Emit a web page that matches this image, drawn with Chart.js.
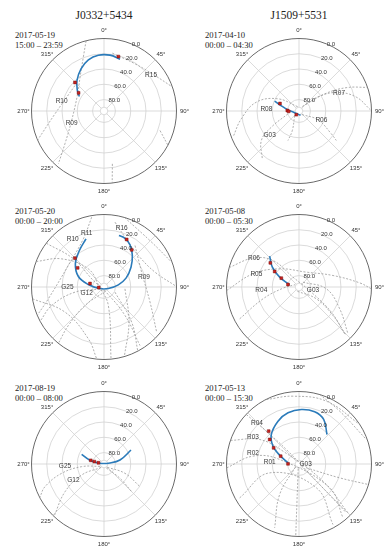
<!DOCTYPE html>
<html>
<head>
<meta charset="utf-8">
<script src="https://cdn.jsdelivr.net/npm/chart.js@4.4.1/dist/chart.umd.min.js"></script>
<style>
  body { margin: 0; width: 391px; height: 550px; overflow: hidden; background: #fff; position: relative; font-family: "Liberation Serif", "Times New Roman", serif; color: #222; }
  canvas { position: absolute; }
  .tit { position: absolute; width: 196px; text-align: center; font-size: 11.5px; line-height: 14px; }
  .dt { position: absolute; font-size: 8.6px; line-height: 10px; white-space: nowrap; }
</style>
</head>
<body>
<div class="tit" style="left:6px;top:8px">J0332+5434</div>
<div class="tit" style="left:201px;top:8px">J1509+5531</div>

<div class="dt" style="left:15px;top:30px">2017-05-19<br>15:00 – 23:59</div>
<div class="dt" style="left:205px;top:30px">2017-04-10<br>00:00 – 04:30</div>
<div class="dt" style="left:15px;top:206px">2017-05-20<br>00:00 – 20:00</div>
<div class="dt" style="left:205px;top:206px">2017-05-08<br>00:00 – 05:30</div>
<div class="dt" style="left:15px;top:383px">2017-08-19<br>00:00 – 08:00</div>
<div class="dt" style="left:205px;top:383px">2017-05-13<br>00:00 – 15:30</div>

<canvas id="c1" width="196" height="180" style="left:6px;top:20.5px"></canvas>
<canvas id="c2" width="196" height="180" style="left:201px;top:20.5px"></canvas>
<canvas id="c3" width="196" height="180" style="left:6px;top:196.5px"></canvas>
<canvas id="c4" width="196" height="180" style="left:201px;top:196.5px"></canvas>
<canvas id="c5" width="196" height="180" style="left:6px;top:374px"></canvas>
<canvas id="c6" width="196" height="180" style="left:201px;top:374px"></canvas>

<script>
// radial axis: elevation 0 at the rim, 90 on the small inner ring, value 95 at the centre
const rCentre = 95;
const ringEls = [0, 20, 40, 60, 80];
const azTicks = [0, 45, 90, 135, 180, 225, 270, 315];

// ---- J0332+5434, 2017-05-19  ([azimuth, elevation])
const p1Blue = [[17.2, 23.9], [6.1, 21.4], [354.2, 21.5], [343, 24.9], [331.4, 32.1], [318.5, 41.6], [307.6, 50.9], [300.5, 57.5]];
const p1Red = [[14.8, 21.2], [314.5, 41.7], [305.5, 54.1]];
const p1Tracks = [
  [[8.2, 18.4], [33.3, 21.0], [55.2, 13.6], [70.1, 0.7]],
  [[345.7, 0], [339, 19.4], [324.7, 40.7], [303.1, 53.8], [253.6, 50.8], [230, 28.2], [220.8, 3.5]],
  [[311.3, 44.4], [266.7, 30.7], [246.3, 0]],
  [[171, 24.9], [173.5, 0]],
  [[109.2, 17.3], [118.2, 0]]
];
const p1Labels = [["R15", 53, 17.8], ["R10", 282.6, 38.1], ["R09", 249.4, 49.7]];

// ---- J1509+5531, 2017-04-10
const p2Blue = [[292, 60.6], [286.3, 70.9], [276, 80.5], [258, 87.8], [160, 89]];
const p2Red = [[291.5, 68.2], [272.5, 79.7], [268, 81.5], [216, 89]];
const p2Tracks = [
  [[36.5, 87.7], [54.3, 61.7], [64.6, 38.4], [76.4, 17.7], [89, 1.5]],
  [[45.7, 82.8], [56.9, 52.2], [64, 25], [71, 0]],
  [[140.5, 89], [115, 67.5], [125.2, 43.1], [128.3, 32.7]],
  [[342.5, 89], [300.1, 63.2], [281.7, 37.9], [262.3, 18.7], [248.4, 2]],
  [[255.6, 80.1], [239.7, 53], [231.9, 32.3], [217.5, 16]],
  [[224, 86.8], [198.9, 68], [200.5, 53.7]]
];
const p2Labels = [["R07", 65.6, 37.4], ["R08", 272.6, 52.2], ["R06", 113, 63.2], ["G03", 230.1, 44.9]];

// ---- J0332+5434, 2017-05-20
const p3Blue = [[339.5, 27.6], [326, 37.3], [309, 46.7], [292.2, 58.7], [279, 74.2], [250, 89], [110, 89], [81.4, 76], [68.1, 63.9], [53.7, 51.1], [42, 39.5], [31.7, 30.1], [22.5, 25.3], [16.2, 24.7]];
const p3Red = [[314.8, 41.4], [306, 52.3], [284, 76.1], [265, 88], [25.5, 26], [36.7, 34.3]];
const p3Tracks = [
  [[307.2, 0], [312.6, 40.4], [301.4, 78.6], [155.4, 86.6], [143.6, 48.6], [148.4, 5]],
  [[350, 2.1], [336.8, 26.3], [301.1, 40.4], [258, 20.4], [247, 0]],
  [[290.6, 0], [303.6, 28.4], [319.2, 63.6], [270, 89], [166.8, 70.1], [174.4, 0.4]],
  [[9.6, 8.8], [22.8, 24.1], [47.5, 33.9], [73.8, 25.4], [88.8, 2]],
  [[36.8, 27.1], [68.5, 42], [108.2, 31.5], [130.6, 4.1]],
  [[16.4, 0], [46.8, 9.3], [69.8, 0.6]],
  [[243, 89], [259.9, 56.4], [250.5, 22.3], [241.8, 0]],
  [[164, 89], [225.8, 60.2], [222.8, 26.2], [219, 0]],
  [[115.2, 79.1], [141.8, 36.4], [152.2, 0]],
  [[260.7, 0], [237.2, 34.2], [196.8, 24.1], [185.8, 0.4]],
  [[95, 67.4], [144.6, 38.5], [163.7, 0]]
];
const p3Labels = [["R11", 342.3, 20.5], ["R10", 327, 19.7], ["R16", 16.7, 14.5], ["R09", 76.2, 41], ["G25", 269.7, 47], ["G12", 251.4, 71]];

// ---- J1509+5531, 2017-05-08
const p4Blue = [[316.4, 39.2], [306.6, 51.5], [297, 66.6], [283, 82.4]];
const p4Red = [[310.1, 45.9], [302.5, 57.2], [296.6, 69.1], [282.8, 80.2]];
const p4Tracks = [
  [[285.6, 0], [302.1, 23.8], [315.5, 46.3], [328.6, 79.9], [112.7, 77.5], [127.9, 41.3], [135.7, 9.3]],
  [[267.2, 0], [286, 32.3], [313.2, 60.2], [26.3, 73.3], [71.3, 48], [86.1, 15.3], [91.5, 0]],
  [[241.8, 6.8], [251.8, 45.3], [265.8, 74], [300, 89]],
  [[200, 89], [124.3, 67.5], [130, 36.9], [135.7, 6.2]],
  [[39.6, 86.8], [93.8, 59.1], [118.2, 34.5], [133.7, 6.2]]
];
const p4Labels = [["R06", 303, 24.7], ["R05", 287.2, 36.5], ["R04", 265.7, 45.5], ["G03", 101.4, 76.3]];

// ---- J0332+5434, 2017-08-19
const p5Blue = [[293.4, 63.1], [284.7, 76], [279.5, 89], [80.5, 87], [76, 73.4], [62.6, 55.2]];
const p5Red = [[285.5, 77], [284, 82], [283, 87.5]];
const p5Tracks = [
  [[240, 89], [263.2, 65.5], [257.6, 38.2], [249, 12.2], [242.4, 0]],
  [[220, 89], [243.8, 62.4], [234.6, 32.4], [223.9, 1.1]],
  [[135, 89], [114, 64.9], [122.2, 39.3]],
  [[150, 89], [131.9, 66.9], [135, 43.7]]
];
const p5Labels = [["G25", 267.1, 43.8], ["G12", 242.4, 49.7]];

// ---- J1509+5531, 2017-05-13
const p6Blue = [[43.5, 41.7], [29, 28.3], [16.7, 23.6], [2.5, 23.5], [347.9, 26.4], [333.9, 32.5], [316.8, 42], [304.4, 53.7], [294.6, 67.1], [276, 80.5]];
const p6Red = [[317.3, 36.4], [309.9, 44.9], [302.5, 55.6], [293.1, 68.9], [271, 80.6]];
const p6Tracks = [
  [[313.2, 0.3], [315.1, 34.3], [319.4, 72.9], [134.8, 56.9], [135.9, 5.9]],
  [[289, 0], [301.9, 34.3], [308.7, 68.1], [125.6, 56.3], [134.9, 4.4]],
  [[266.9, 0], [279.7, 33.8], [283.1, 69], [127.9, 44.1], [140.7, 3.9]],
  [[240.3, 5.5], [253.2, 54.9], [143.9, 56.4], [150.7, 4.1]],
  [[333.1, 0.3], [354.9, 5.8], [23.5, 5.2], [56.9, 0.1]],
  [[16.6, 0], [37.6, 7.6], [70, 1.1]],
  [[190, 89], [183.1, 46.2], [182.6, 0.3]],
  [[230, 89], [212.4, 47.7], [200.9, 5.5]],
  [[117.6, 84.2], [108.8, 38.7], [106.5, 0.6]]
];
const p6Labels = [["R04", 314.4, 17.9], ["R03", 300.3, 25.2], ["R02", 283.6, 33], ["R01", 273.6, 56.5], ["G03", 94.3, 86.2]];

function toXY(az, el) {
  const r = rCentre - el, a = az * Math.PI / 180;
  return { x: r * Math.sin(a), y: r * Math.cos(a) };
}
const conv = list => list.map(p => toXY(p[0], p[1]));

const skyGrid = {
  id: "skyGrid",
  beforeDatasetsDraw(chart) {
    const ctx = chart.ctx, sx = chart.scales.x, sy = chart.scales.y;
    const cx = sx.getPixelForValue(0), cy = sy.getPixelForValue(0);
    const pr = v => sx.getPixelForValue(v) - cx;
    ctx.save();
    ctx.strokeStyle = "#d2d2d2";
    ctx.lineWidth = 0.8;
    [20, 40, 60, 80, 90].forEach(el => {
      ctx.beginPath();
      ctx.arc(cx, cy, pr(rCentre - el), 0, Math.PI * 2);
      ctx.stroke();
    });
    azTicks.forEach(az => {
      const a = az * Math.PI / 180;
      ctx.beginPath();
      ctx.moveTo(cx + pr(5) * Math.sin(a), cy - pr(5) * Math.cos(a));
      ctx.lineTo(cx + pr(rCentre) * Math.sin(a), cy - pr(rCentre) * Math.cos(a));
      ctx.stroke();
    });
    ctx.strokeStyle = "#6a6a6a";
    ctx.lineWidth = 1;
    ctx.beginPath();
    ctx.arc(cx, cy, pr(rCentre), 0, Math.PI * 2);
    ctx.stroke();
    ctx.restore();
    // keep the tracks inside the rim
    ctx.save();
    ctx.beginPath();
    ctx.arc(cx, cy, pr(rCentre) + 0.5, 0, Math.PI * 2);
    ctx.clip();
  },
  afterDatasetsDraw(chart, args, opts) {
    const ctx = chart.ctx, sx = chart.scales.x, sy = chart.scales.y;
    ctx.restore();
    const cx = sx.getPixelForValue(0), cy = sy.getPixelForValue(0);
    const pr = v => sx.getPixelForValue(v) - cx;
    ctx.save();
    ctx.fillStyle = "#333";
    ctx.textBaseline = "middle";
    ctx.font = '6px "Liberation Sans", Arial, sans-serif';
    ctx.textAlign = "center";
    azTicks.forEach(az => {
      const a = az * Math.PI / 180, r = pr(rCentre) + 8;
      ctx.fillText(az + "°", cx + r * Math.sin(a), cy - r * Math.cos(a));
    });
    ctx.textAlign = "left";
    const la = 22.5 * Math.PI / 180;
    ringEls.forEach(el => {
      const r = pr(rCentre - el);
      ctx.fillText(el.toFixed(1), cx + r * Math.sin(la), cy - r * Math.cos(la));
    });
    ctx.font = '6.5px "Liberation Sans", Arial, sans-serif';
    ctx.textAlign = "center";
    ctx.fillStyle = "#3a3a3a";
    opts.labels.forEach(([name, az, el]) => {
      const p = toXY(az, el);
      ctx.fillText(name, sx.getPixelForValue(p.x), sy.getPixelForValue(p.y));
    });
    ctx.restore();
  }
};

function skyPlot(id, blue, red, tracks, labels) {
  const sets = [
    { data: conv(red), showLine: false, pointRadius: 2, pointStyle: "rect",
      backgroundColor: "#c8231f", borderColor: "#7d1010", borderWidth: 0.5, order: 0 },
    { data: conv(blue), showLine: true, pointRadius: 0, borderColor: "#2b7bba", borderWidth: 1.6,
      tension: 0.4, order: 1 }
  ];
  tracks.forEach(t => sets.push({
    data: conv(t), showLine: true, pointRadius: 0, borderColor: "#9a9a9a", borderWidth: 0.8,
    borderDash: [2, 1.6], tension: 0.4, order: 2
  }));
  return new Chart(document.getElementById(id), {
    type: "scatter",
    data: { datasets: sets },
    options: {
      responsive: false,
      animation: false,
      layout: { padding: { left: 25.5, right: 25.5, top: 17.5, bottom: 17.5 } },
      plugins: { legend: { display: false }, tooltip: { enabled: false }, skyGrid: { labels: labels } },
      scales: {
        x: { type: "linear", min: -rCentre, max: rCentre, display: false },
        y: { type: "linear", min: -rCentre, max: rCentre, display: false }
      }
    },
    plugins: [skyGrid]
  });
}

skyPlot("c1", p1Blue, p1Red, p1Tracks, p1Labels);
skyPlot("c2", p2Blue, p2Red, p2Tracks, p2Labels);
skyPlot("c3", p3Blue, p3Red, p3Tracks, p3Labels);
skyPlot("c4", p4Blue, p4Red, p4Tracks, p4Labels);
skyPlot("c5", p5Blue, p5Red, p5Tracks, p5Labels);
skyPlot("c6", p6Blue, p6Red, p6Tracks, p6Labels);
</script>
</body>
</html>
